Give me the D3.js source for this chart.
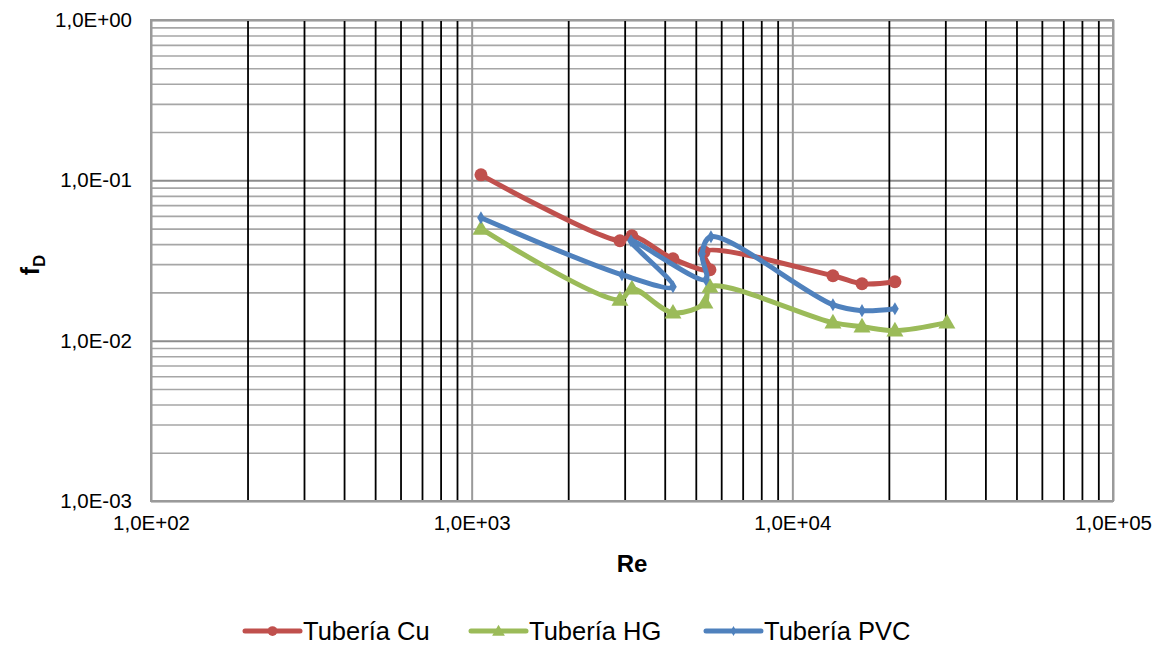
<!DOCTYPE html>
<html>
<head>
<meta charset="utf-8">
<script src="https://cdn.jsdelivr.net/npm/d3@7"></script>
<style>
  html, body { margin: 0; padding: 0; background: #fff; }
  svg { display: block; font-family: "Liberation Sans", Arial, sans-serif; }
</style>
</head>
<body>
<svg id="chart" width="1160" height="645"></svg>
<script>
// Darcy friction factor vs Reynolds number for three pipe materials
const seriesNames = ["Tubería Cu", "Tubería HG", "Tubería PVC"];

const reCu  = [1069, 2900, 3160, 4244, 5535, 5302, 13385, 16490, 20890];
const fdCu  = [0.1082, 0.0420, 0.0451, 0.0324, 0.0277, 0.0358, 0.0254, 0.02265, 0.0233];

const reHG  = [1069, 2900, 3160, 4244, 5340, 5535, 13385, 16490, 20890, 30340];
const fdHG  = [0.0499, 0.0180, 0.0211, 0.01494, 0.01725, 0.0217, 0.01295, 0.01223, 0.01155, 0.01295];

const rePVC = [1069, 2942, 4244, 3140, 5378, 5230, 5575, 13385, 16490, 20890];
const fdPVC = [0.0584, 0.02577, 0.0217, 0.0420, 0.02399, 0.0348, 0.0445, 0.01676, 0.01538, 0.01582];

const xMajorTicks = [1e2, 1e3, 1e4, 1e5];
const yMajorTicks = [1e-3, 1e-2, 1e-1, 1e0];

const colors = ["#C0504D", "#9BBB59", "#4F81BD"];

const svg = d3.select("#chart");
const plotL = 151, plotR = 1113, plotT = 20, plotB = 501;

const x = d3.scaleLog().domain([1e2, 1e5]).range([plotL, plotR]);
const y = d3.scaleLog().domain([1e-3, 1e0]).range([plotB, plotT]);

// minor tick values: 2..9 times each decade
function minors(majors) {
  const out = [];
  for (let i = 0; i < majors.length - 1; i++)
    for (let k = 2; k <= 9; k++) out.push(majors[i] * k);
  return out;
}
const xMinor = minors(xMajorTicks);
const yMinor = minors(yMajorTicks);

function sci(v) {
  const e = Math.round(Math.log10(v));
  const s = e >= 0 ? "+" : "-";
  return "1,0E" + s + String(Math.abs(e)).padStart(2, "0");
}

// horizontal gridlines
const gy = svg.append("g").attr("transform", `translate(${plotL},0)`)
  .call(d3.axisLeft(y).tickValues(yMinor).tickSize(-(plotR - plotL)).tickFormat(""));
gy.select(".domain").remove();
gy.selectAll(".tick line").attr("stroke", "#A6A6A6").attr("stroke-width", 1.6);

const gyM = svg.append("g").attr("transform", `translate(${plotL},0)`)
  .call(d3.axisLeft(y).tickValues(yMajorTicks).tickSize(-(plotR - plotL)).tickFormat(""));
gyM.select(".domain").remove();
gyM.selectAll(".tick line").attr("stroke", "#8C8C8C").attr("stroke-width", 2);

// vertical gridlines: minor in black, major in grey
const gx = svg.append("g").attr("transform", `translate(0,${plotB})`)
  .call(d3.axisBottom(x).tickValues(xMinor).tickSize(-(plotB - plotT)).tickFormat(""));
gx.select(".domain").remove();
gx.selectAll(".tick line").attr("stroke", "#000").attr("stroke-width", 1.8);

const gxM = svg.append("g").attr("transform", `translate(0,${plotB})`)
  .call(d3.axisBottom(x).tickValues(xMajorTicks).tickSize(-(plotB - plotT)).tickFormat(""));
gxM.select(".domain").remove();
gxM.selectAll(".tick line").attr("stroke", "#9A9A9A").attr("stroke-width", 2);

// plot frame
svg.append("rect").attr("x", plotL).attr("y", plotT)
  .attr("width", plotR - plotL).attr("height", plotB - plotT)
  .attr("fill", "none").attr("stroke", "#9A9A9A").attr("stroke-width", 2);

// axis labels
const ax = svg.append("g").attr("transform", `translate(0,${plotB})`)
  .call(d3.axisBottom(x).tickValues(xMajorTicks).tickSize(0).tickPadding(14).tickFormat(sci));
ax.select(".domain").remove();
ax.selectAll("text").attr("font-size", 20.5).attr("fill", "#000")
  .attr("font-family", "Liberation Sans, Arial, sans-serif");

const ay = svg.append("g").attr("transform", `translate(${plotL},0)`)
  .call(d3.axisLeft(y).tickValues(yMajorTicks).tickSize(0).tickPadding(19).tickFormat(sci));
ay.select(".domain").remove();
ay.selectAll("text").attr("font-size", 20.5).attr("fill", "#000")
  .attr("font-family", "Liberation Sans, Arial, sans-serif");

// axis titles
svg.append("text").attr("x", 632).attr("y", 572).attr("text-anchor", "middle")
  .attr("font-size", 24).attr("font-weight", "bold").text("Re");

const yt = svg.append("text").attr("transform", "translate(39,265) rotate(-90)")
  .attr("text-anchor", "middle").attr("font-weight", "bold");
yt.append("tspan").attr("font-size", 25).text("f");
yt.append("tspan").attr("font-size", 17).attr("dy", 6).text("D");

// series
const series = [
  { re: reCu, fd: fdCu, sym: "circle" },
  { re: reHG, fd: fdHG, sym: "triangle" },
  { re: rePVC, fd: fdPVC, sym: "diamond" }
];

const line = d3.line().x(d => x(d[0])).y(d => y(d[1])).curve(d3.curveCatmullRom.alpha(0.5));

function marker(g, sym, color, cx, cy, scale) {
  if (sym === "circle") {
    g.append("circle").attr("cx", cx).attr("cy", cy).attr("r", 6.5 * scale).attr("fill", color);
  } else if (sym === "triangle") {
    g.append("path").attr("d", d3.symbol(d3.symbolTriangle, 125 * scale * scale)())
      .attr("transform", `translate(${cx},${cy + 1})`).attr("fill", color);
  } else {
    g.append("path").attr("d", d3.symbol(d3.symbolDiamond, 50 * scale * scale)())
      .attr("transform", `translate(${cx},${cy})`).attr("fill", color);
  }
}

series.forEach((s, i) => {
  const pts = s.re.map((r, j) => [r, s.fd[j]]);
  const g = svg.append("g");
  g.append("path").datum(pts).attr("d", line)
    .attr("fill", "none").attr("stroke", colors[i]).attr("stroke-width", 5)
    .attr("stroke-linejoin", "round").attr("stroke-linecap", "round");
  pts.forEach(p => marker(g, s.sym, colors[i], x(p[0]), y(p[1]), 1));
});

// legend
const legendX = [245, 471, 706];
const legendY = 631;
seriesNames.forEach((name, i) => {
  const g = svg.append("g");
  g.append("line").attr("x1", legendX[i]).attr("x2", legendX[i] + 55)
    .attr("y1", legendY).attr("y2", legendY)
    .attr("stroke", colors[i]).attr("stroke-width", 5).attr("stroke-linecap", "round");
  marker(g, series[i].sym, colors[i], legendX[i] + 27.5, legendY, 0.75);
  g.append("text").attr("x", legendX[i] + 58).attr("y", legendY + 8.5)
    .attr("font-size", 25.5).attr("fill", "#000").text(name);
});
</script>
</body>
</html>
